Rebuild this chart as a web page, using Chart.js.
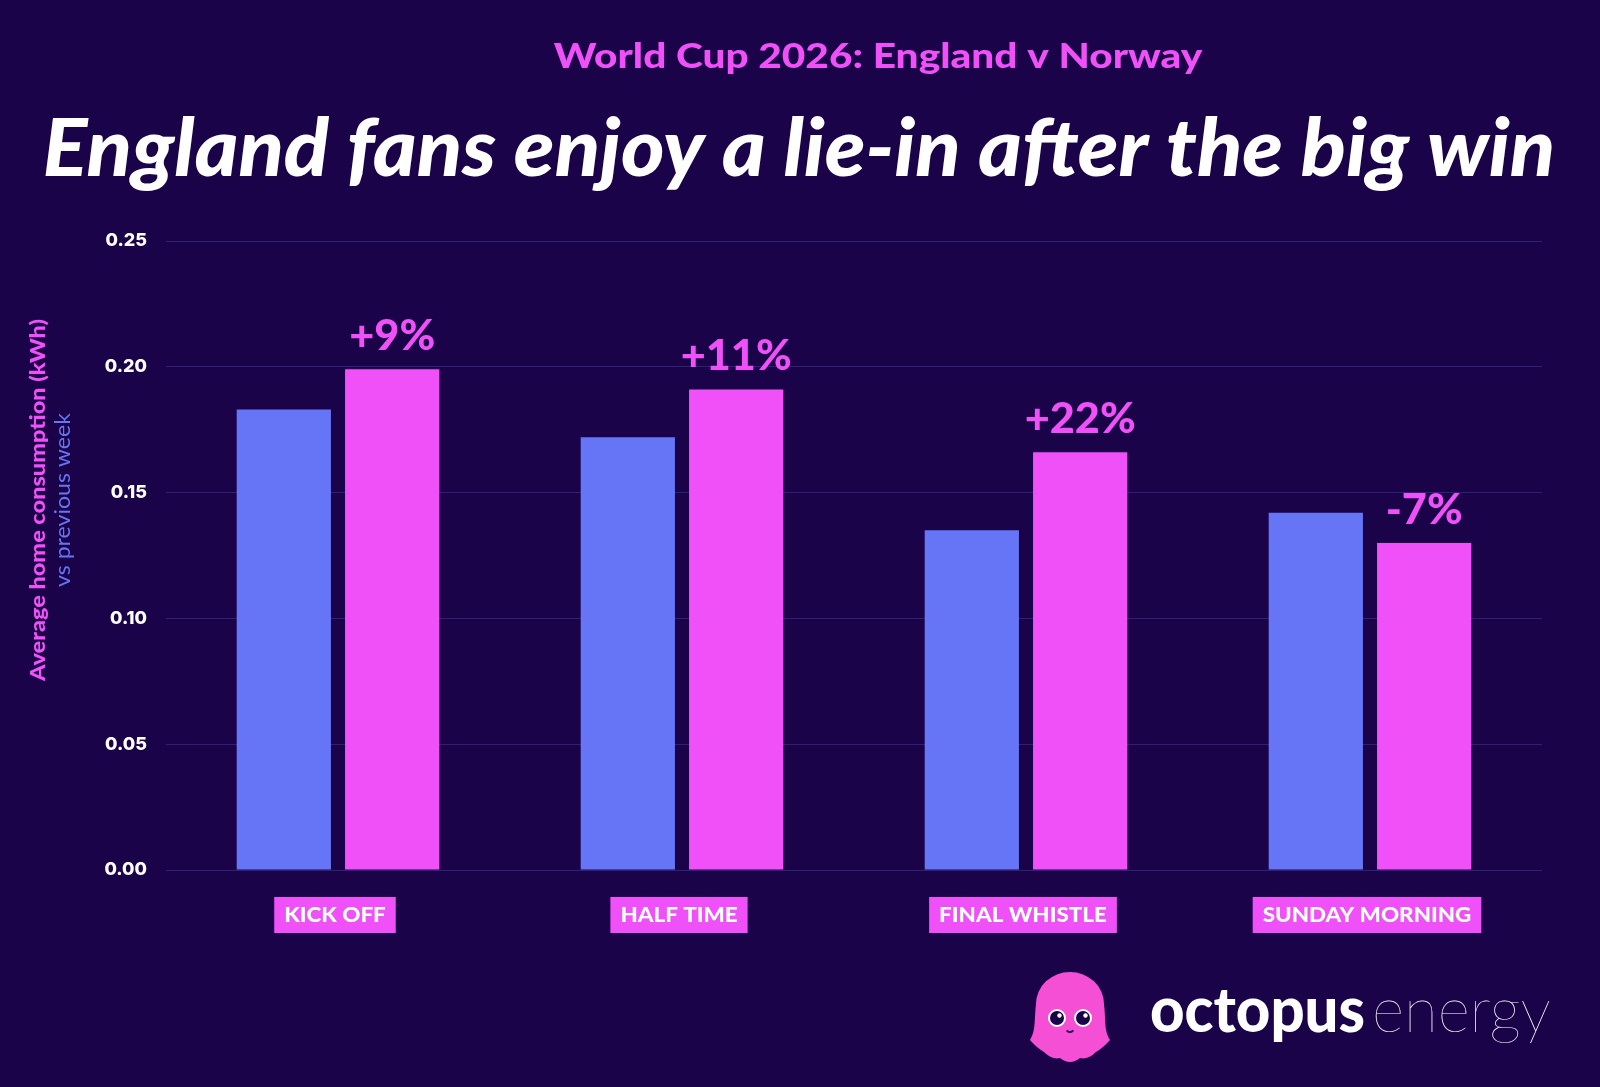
<!DOCTYPE html>
<html>
<head>
<meta charset="utf-8">
<script src="https://cdn.jsdelivr.net/npm/chart.js@4.4.1/dist/chart.umd.min.js"></script>
<style>
  html, body { margin: 0; padding: 0; background: #1a0349; }
  #wrap { width: 1600px; height: 1087px; }
</style>
</head>
<body>
<div id="wrap"><canvas id="chart" width="1600" height="1087"></canvas></div>
<script>
// data
const categories = ['KICK OFF', 'HALF TIME', 'FINAL WHISTLE', 'SUNDAY MORNING'];
const previousWeek = [0.183, 0.172, 0.135, 0.142];
const matchDay = [0.199, 0.191, 0.166, 0.130];
const changeLabels = ['+9%', '+11%', '+22%', '-7%'];

const BG = '#1a0349';
const PINK = '#ef50f7';
const BLUE = '#6675f6';
const GRID = '#2e2174';

// texto estirado en horizontal (la fuente original es mas ancha)
function wideText(ctx, text, x, y, sx) {
  ctx.save();
  ctx.translate(x, y);
  ctx.scale(sx, 1);
  ctx.fillText(text, 0, 0);
  ctx.restore();
}

// fondo, titulos, eje y y logo
const decorPlugin = {
  id: 'decor',
  beforeDraw(chart) {
    const ctx = chart.ctx;
    ctx.save();
    ctx.fillStyle = BG;
    ctx.fillRect(0, 0, chart.width, chart.height);
    ctx.restore();
  },
  afterDraw(chart) {
    const ctx = chart.ctx;
    ctx.save();
    ctx.textAlign = 'center';
    ctx.textBaseline = 'alphabetic';

    // subtitle
    ctx.fillStyle = PINK;
    ctx.font = '900 35px Lato';
    wideText(ctx, 'World Cup 2026: England v Norway', 878, 68, 1.16);

    // main title
    ctx.fillStyle = '#ffffff';
    ctx.font = 'italic 900 80px Lato';
    wideText(ctx, 'England fans enjoy a lie-in after the big win', 799, 176, 1.04);

    // y axis title, two colours
    ctx.save();
    ctx.translate(38, 500);
    ctx.rotate(-Math.PI / 2);
    ctx.textBaseline = 'middle';
    ctx.fillStyle = PINK;
    ctx.font = '900 21px Lato';
    wideText(ctx, 'Average home consumption (kWh)', 0, 0, 1.12);
    ctx.fillStyle = BLUE;
    ctx.font = '21px Lato';
    wideText(ctx, 'vs previous week', 0, 25, 1.1);
    ctx.restore();

    // category pills
    const xs = chart.scales.x;
    ctx.font = '900 20px Lato';
    categories.forEach((c, i) => {
      const cx = xs.getPixelForValue(i) - 3;
      const w = ctx.measureText(c).width * 1.12 + 20;
      ctx.fillStyle = PINK;
      ctx.fillRect(cx - w / 2, 897, w, 36);
      ctx.fillStyle = '#ffffff';
      ctx.textBaseline = 'middle';
      wideText(ctx, c, cx, 916, 1.12);
    });

    // change labels over the pink bars
    const pink = chart.getDatasetMeta(1);
    ctx.fillStyle = PINK;
    ctx.font = '900 42px Lato';
    ctx.textBaseline = 'alphabetic';
    pink.data.forEach((bar, i) => {
      wideText(ctx, changeLabels[i], bar.x, bar.y - 19, 1.03);
    });

    drawLogo(ctx);
    ctx.restore();
  }
};

// octopus mascot + wordmark
function drawLogo(ctx) {
  const cx = 1070, cy = 1008;
  ctx.save();
  ctx.fillStyle = '#f54fd6';
  ctx.beginPath();
  ctx.ellipse(cx, cy - 4, 34, 32, 0, Math.PI, 0);
  ctx.bezierCurveTo(cx + 36, cy + 14, cx + 34, cy + 22, cx + 40, cy + 32);
  // tentacles
  const feet = [[cx + 40, cy + 32], [cx + 26, cy + 44], [cx + 10, cy + 50], [cx - 10, cy + 50], [cx - 26, cy + 44], [cx - 40, cy + 32]];
  for (let k = 1; k < feet.length; k++) {
    const [px, py] = feet[k - 1];
    const [qx, qy] = feet[k];
    ctx.quadraticCurveTo((px + qx) / 2, Math.min(py, qy) + 8, qx, qy);
  }
  ctx.bezierCurveTo(cx - 34, cy + 22, cx - 36, cy + 14, cx - 34, cy - 4);
  ctx.closePath();
  ctx.fill();
  // eyes
  [[cx - 13, cy + 10], [cx + 13, cy + 10]].forEach(([ex, ey]) => {
    ctx.fillStyle = '#ffffff';
    ctx.beginPath(); ctx.arc(ex, ey, 9, 0, Math.PI * 2); ctx.fill();
    ctx.fillStyle = '#1a0349';
    ctx.beginPath(); ctx.arc(ex, ey, 7, 0, Math.PI * 2); ctx.fill();
    ctx.fillStyle = '#ffffff';
    ctx.beginPath(); ctx.arc(ex + 2.5, ey - 2.5, 2.2, 0, Math.PI * 2); ctx.fill();
  });
  ctx.strokeStyle = '#1a0349';
  ctx.lineWidth = 2;
  ctx.beginPath(); ctx.arc(cx, cy + 20, 4, 0.2 * Math.PI, 0.8 * Math.PI); ctx.stroke();
  ctx.restore();

  ctx.save();
  ctx.fillStyle = '#ffffff';
  ctx.textAlign = 'left';
  ctx.textBaseline = 'alphabetic';
  ctx.font = '900 62px Lato';
  ctx.fillText('octopus', 1150, 1032, 215);
  ctx.font = '100 62px Lato';
  ctx.fillText('energy', 1372, 1032, 184);
  ctx.restore();
}

window.addEventListener('DOMContentLoaded', () => {
  const ctx = document.getElementById('chart').getContext('2d');
  new Chart(ctx, {
    type: 'bar',
    data: {
      labels: categories,
      datasets: [
        { label: 'Previous week', data: previousWeek, backgroundColor: BLUE },
        { label: 'Match day', data: matchDay, backgroundColor: PINK }
      ]
    },
    options: {
      responsive: false,
      animation: false,
      devicePixelRatio: 1,
      datasets: { bar: { categoryPercentage: 0.63, barPercentage: 0.87 } },
      layout: { padding: { left: 0, right: 58, top: 241, bottom: 0 } },
      plugins: {
        legend: { display: false },
        title: { display: false },
        tooltip: { enabled: false }
      },
      scales: {
        x: {
          grid: { display: false },
          border: { display: false },
          ticks: { display: false },
          afterFit: s => { s.height = 217; }
        },
        y: {
          min: 0,
          max: 0.25,
          grid: { color: GRID, lineWidth: 1, drawTicks: false },
          border: { display: false },
          ticks: {
            stepSize: 0.05,
            padding: 19,
            color: '#ffffff',
            font: { family: 'Inter', size: 18, weight: '800' },
            callback: v => v.toFixed(2)
          },
          afterFit: s => { s.width = 166; }
        }
      }
    },
    plugins: [decorPlugin]
  });
});
</script>
</body>
</html>
